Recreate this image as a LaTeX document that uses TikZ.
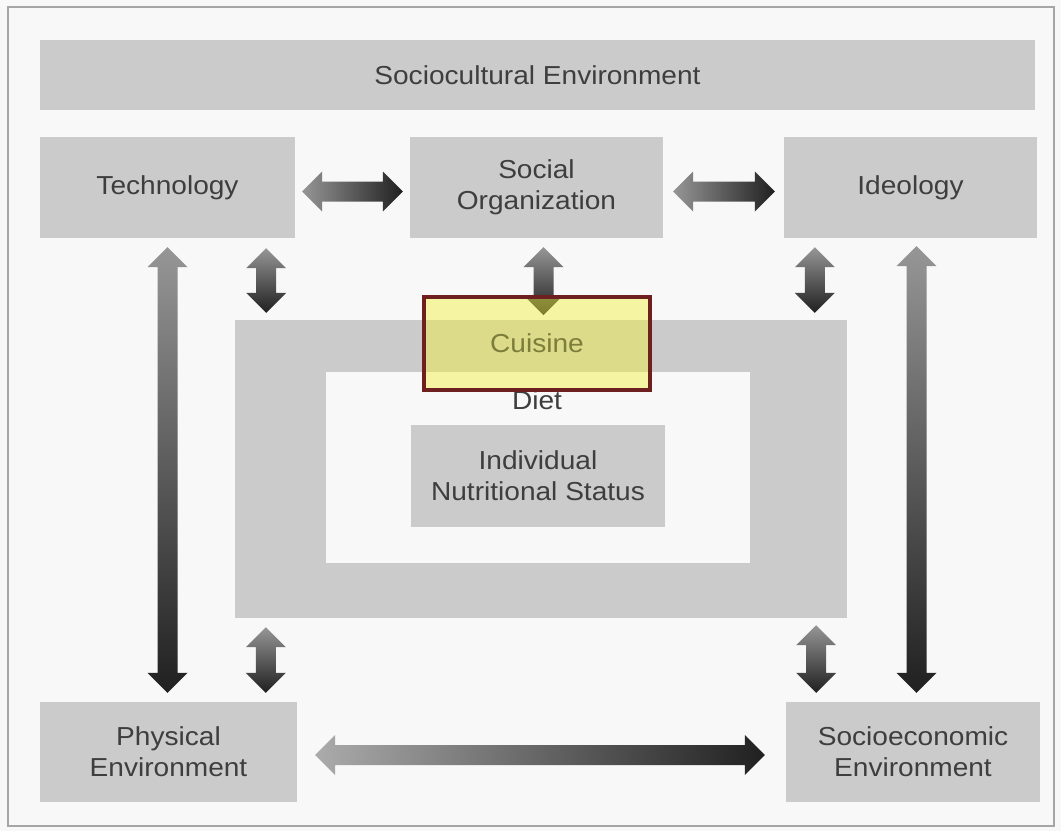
\documentclass[tikz,border=0pt]{standalone}
\usepackage{fontspec}
\setmainfont{Liberation Sans}[FakeStretch=1.08]
\usetikzlibrary{calc}

\definecolor{pagebg}{RGB}{248,248,248}
\definecolor{boxgray}{RGB}{203,203,203}
\definecolor{txtgray}{RGB}{62,62,62}
\definecolor{arrlight}{RGB}{150,150,150}
\definecolor{arrdark}{RGB}{32,32,32}
\definecolor{hiliteyel}{RGB}{240,240,60}
\definecolor{hiliteedge}{RGB}{110,32,32}
\definecolor{cuistxt}{RGB}{125,125,60}

% block arrows, drawn between two points (horizontal / vertical)
\newcommand\harrow[3][]{%
  \shade[left color=arrlight, right color=arrdark, #1]
    let \p1=(#2), \p2=(#3) in
    (\x1,\y1) -- ({\x1+20pt},{\y1+20pt}) -- ({\x1+20pt},{\y1+10pt})
    -- ({\x2-20pt},{\y1+10pt}) -- ({\x2-20pt},{\y1+20pt}) -- (\x2,\y1)
    -- ({\x2-20pt},{\y1-20pt}) -- ({\x2-20pt},{\y1-10pt})
    -- ({\x1+20pt},{\y1-10pt}) -- ({\x1+20pt},{\y1-20pt}) -- cycle;}
\newcommand\varrow[3][]{%
  \shade[top color=arrlight, bottom color=arrdark, #1]
    let \p1=(#2), \p2=(#3) in
    (\x1,\y1) -- ({\x1+20pt},{\y1-20pt}) -- ({\x1+10pt},{\y1-20pt})
    -- ({\x1+10pt},{\y2+20pt}) -- ({\x1+20pt},{\y2+20pt}) -- (\x1,\y2)
    -- ({\x1-20pt},{\y2+20pt}) -- ({\x1-10pt},{\y2+20pt})
    -- ({\x1-10pt},{\y1-20pt}) -- ({\x1-20pt},{\y1-20pt}) -- cycle;}

\begin{document}
\begin{tikzpicture}[x=1pt,y=-1pt,
    box/.style={fill=boxgray, inner sep=0pt, align=center, text=txtgray,
      font=\fontsize{26}{31}\selectfont},
    plain/.style={inner sep=0pt, text=txtgray, font=\fontsize{26}{31}\selectfont}]
    \useasboundingbox (0,0) rectangle (1061,831);
    \fill[pagebg] (0,0) rectangle (1061,831);
    \draw[gray!70, line width=1.5pt] (8,7) rectangle (1054,826);

    \node[box, minimum width=995, minimum height=70] (socio) at (537.5,75) {Sociocultural Environment};
    \node[box, minimum width=255, minimum height=101] (tech) at (167.5,187.5) {Technology};
    \node[box, minimum width=253, minimum height=101] (socorg) at (536.5,187.5) {Social\\Organization};
    \node[box, minimum width=253, minimum height=101] (ideo) at (910.5,187.5) {Ideology};
    \node[box, minimum width=612, minimum height=298] (frame) at (541,469) {};
    \node[fill=pagebg, minimum width=424, minimum height=191, inner sep=0pt] (dietbox) at (538,467.5) {};
    \node[plain] (diet) at (537,400) {Diet};
    \node[box, minimum width=254, minimum height=102] (indiv) at (538,476) {Individual\\Nutritional Status};
    \node[box, minimum width=257, minimum height=100] (phys) at (168.5,752) {Physical\\Environment};
    \node[box, minimum width=254, minimum height=100] (socec) at (913,752) {Socioeconomic\\Environment};
    \coordinate (cuis) at (537,295);

    % arrows
    \harrow{[shift={(7,4)}]tech.east}{[shift={(-7,4)}]socorg.west}
    \harrow{[shift={(10,4)}]socorg.east}{[shift={(-9,4)}]ideo.west}
    \harrow[left color=arrlight!80!white]{[shift={(18,3)}]phys.east}{[shift={(-21,3)}]socec.west}
    \varrow{[shift={(-29,10)}]tech.south east}{[shift={(31,-7)}]frame.north west}
    \varrow{[shift={(7,9)}]socorg.south}{[shift={(7,20)}]cuis}
    \varrow{[shift={(31,9)}]ideo.south west}{[shift={(-32,-7)}]frame.north east}
    \varrow{[shift={(0,9)}]tech.south}{[shift={(-1,-9)}]phys.north}
    \varrow{[shift={(6,8)}]ideo.south}{[shift={(3.5,-9)}]socec.north}
    \varrow{[shift={(31,9)}]frame.south west}{[shift={(-31,-9)}]phys.north east}
    \varrow{[shift={(-31,7)}]frame.south east}{[shift={(30,-9)}]socec.north west}

    % highlight
    \node[draw=hiliteedge, line width=4pt, fill=hiliteyel, fill opacity=0.45,
      text opacity=1, text=cuistxt, minimum width=226, minimum height=93,
      inner sep=0pt, anchor=north, font=\fontsize{26}{31}\selectfont] (cuisine) at (cuis) {Cuisine};
\end{tikzpicture}
\end{document}
